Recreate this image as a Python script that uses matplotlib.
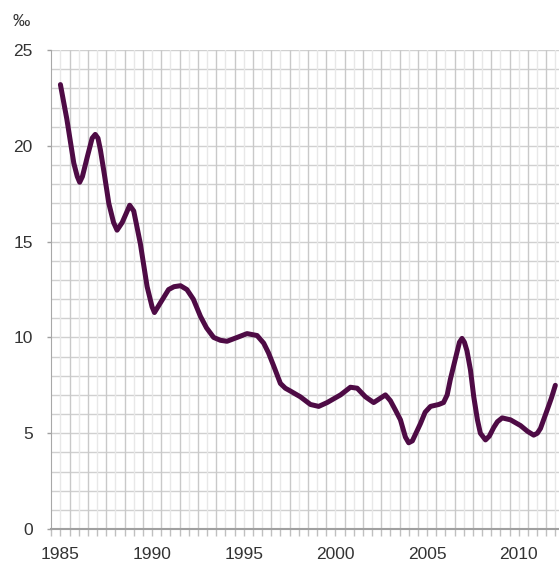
import matplotlib.pyplot as plt
import numpy as np

plt.rcParams['font.family'] = ['Liberation Sans', 'DejaVu Sans']

# readings (year, per mille)
years = [1985.0, 1985.35, 1985.73, 1985.92, 1986.05, 1986.2, 1986.46, 1986.73, 1986.9,
         1987.05, 1987.18, 1987.4, 1987.64, 1987.9, 1988.09, 1988.37, 1988.6, 1988.78,
         1989.0, 1989.36, 1989.73, 1990.0, 1990.13, 1990.45, 1990.9, 1991.2, 1991.55,
         1991.9, 1992.25, 1992.64, 1992.97, 1993.36, 1993.73, 1994.09, 1994.64, 1995.18,
         1995.73, 1996.09, 1996.35, 1996.64, 1997.0, 1997.27, 1997.55, 1998.09, 1998.64,
         1999.09, 1999.55, 2000.28, 2000.82, 2001.19, 2001.64, 2002.09, 2002.73, 2003.0,
         2003.28, 2003.55, 2003.82, 2004.0, 2004.2, 2004.64, 2004.9, 2005.19, 2005.64,
         2005.9, 2006.1, 2006.27, 2006.55, 2006.77, 2006.91, 2007.04, 2007.18, 2007.37,
         2007.55, 2007.75, 2007.91, 2008.19, 2008.4, 2008.64, 2008.84, 2009.1, 2009.55,
         2010.1, 2010.48, 2010.82, 2011.02, 2011.19, 2011.55, 2011.79, 2012.0]
rate = [23.2, 21.4, 19.1, 18.4, 18.1, 18.4, 19.4, 20.4, 20.6,
        20.4, 19.8, 18.5, 17.0, 16.0, 15.6, 16.0, 16.5, 16.9,
        16.6, 14.9, 12.65, 11.6, 11.3, 11.8, 12.5, 12.65, 12.7,
        12.5, 12.0, 11.1, 10.5, 10.0, 9.85, 9.8, 10.0, 10.2,
        10.1, 9.7, 9.2, 8.5, 7.6, 7.35, 7.2, 6.9, 6.5,
        6.4, 6.6, 7.0, 7.4, 7.35, 6.9, 6.6, 7.0, 6.7,
        6.2, 5.7, 4.8, 4.5, 4.6, 5.5, 6.1, 6.4, 6.5,
        6.6, 7.0, 7.8, 8.9, 9.75, 9.95, 9.75, 9.3, 8.3,
        6.9, 5.7, 5.0, 4.65, 4.85, 5.3, 5.6, 5.8, 5.7,
        5.4, 5.1, 4.9, 5.0, 5.25, 6.2, 6.85, 7.5]

fig = plt.figure(figsize=(5.59, 5.63), dpi=100)
ax = fig.add_axes([0.0907, 0.0604, 0.9093, 0.8506])

ax.set_xlim(1984.47, 2012.2)
ax.set_ylim(0, 25)

# grid
for yv in range(1, 26):
    ax.axhline(yv, color='#d0d0d0', lw=1.0, zorder=1)
for xv in np.arange(1985, 2013):
    ax.axvline(xv, color='#e8e8e8', lw=1.0, zorder=1)
    ax.axvline(xv + 0.5, color='#c9c9c9', lw=1.0, zorder=1)

ax.plot(years, rate, color='#4e0b45', lw=3.6, solid_capstyle='round',
        solid_joinstyle='round', zorder=3)

ax.set_yticks([0, 5, 10, 15, 20, 25])
ax.set_xticks([1985, 1990, 1995, 2000, 2005, 2010])
ax.set_xticks(np.arange(1984.5, 2012.1, 0.5), minor=True)
ax.tick_params(axis='y', length=3, width=1, color='#a0a0a0', pad=10,
               labelsize=12.5, labelcolor='#333333')
ax.tick_params(axis='x', which='major', length=5, width=1, color='#c0c0c0',
               pad=8, labelsize=12.5, labelcolor='#333333')
ax.tick_params(axis='x', which='minor', length=5, width=1, color='#c0c0c0')

for s in ['top', 'right']:
    ax.spines[s].set_visible(False)
ax.spines['left'].set_color('#a8a8a8')
ax.spines['bottom'].set_color('#a0a0a0')
ax.spines['bottom'].set_linewidth(1.5)

fig.text(0.023, 0.962, '‰', fontsize=12.5, color='#333333', ha='left', va='center')

fig.savefig('out.png', dpi=100)
